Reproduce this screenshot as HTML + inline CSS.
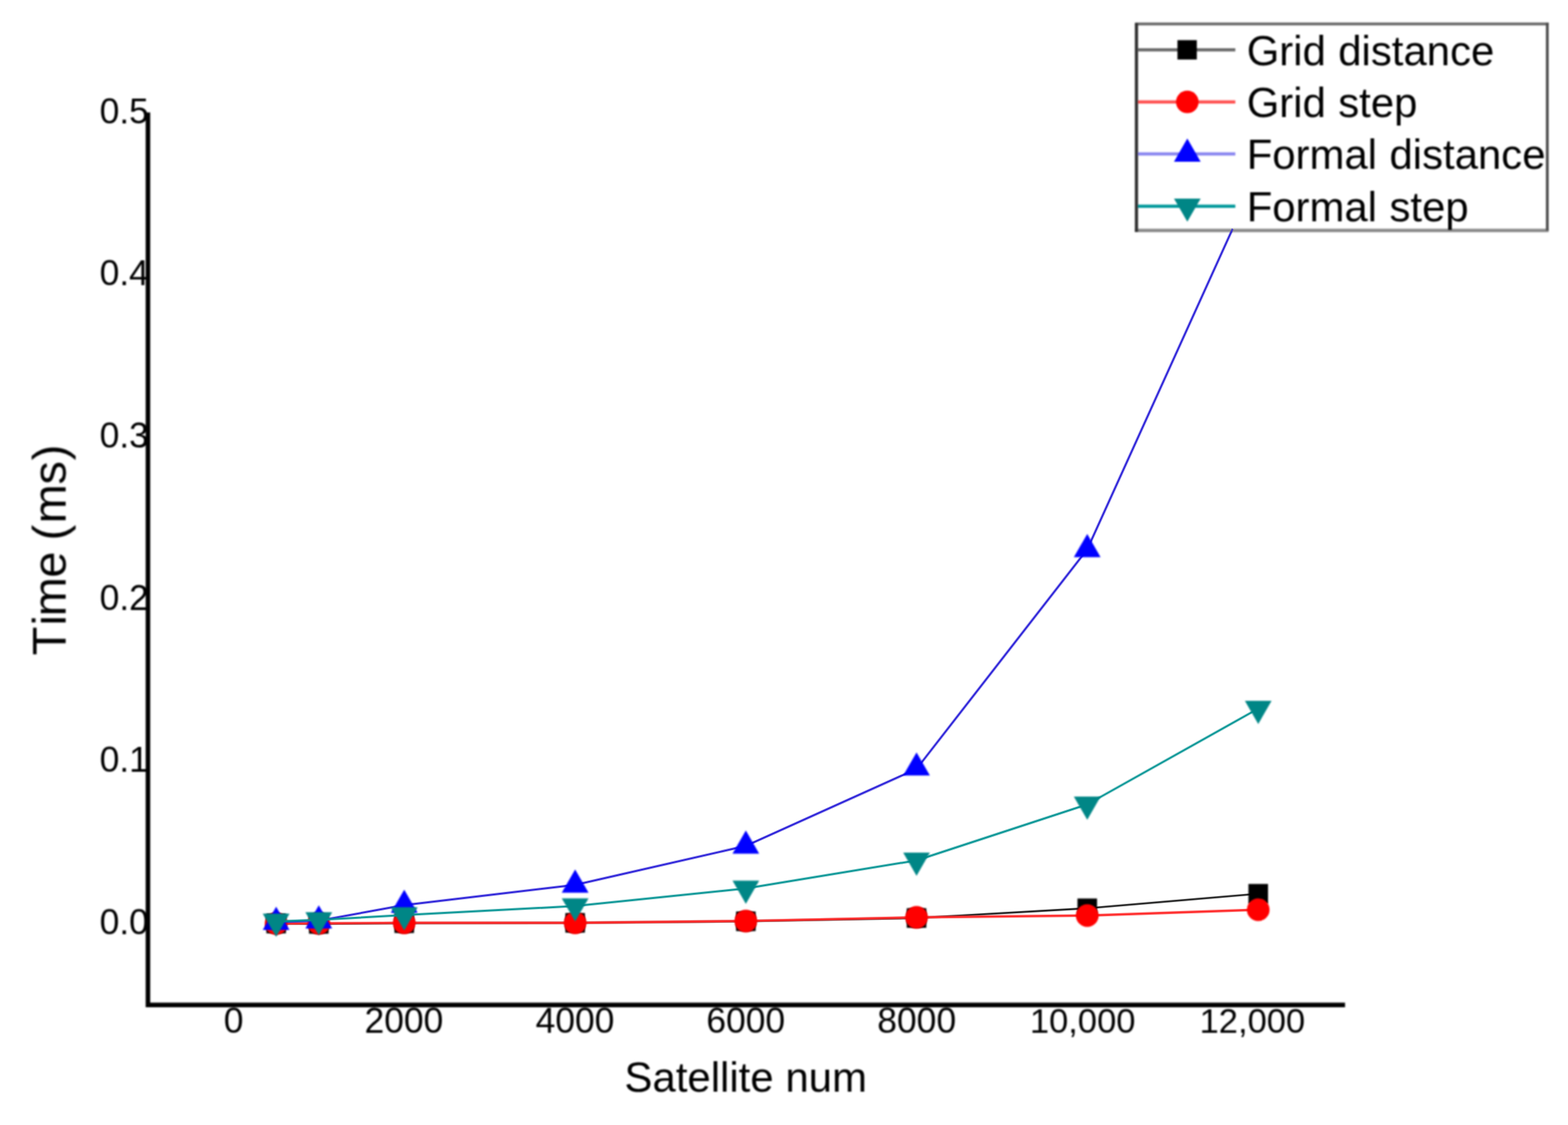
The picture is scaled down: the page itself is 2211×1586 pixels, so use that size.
<!DOCTYPE html>
<html lang="en"><head><meta charset="utf-8"><title>Time (ms) vs Satellite num</title>
<style>
html,body{margin:0;padding:0;background:#ffffff;}
body{width:2211px;height:1586px;}
svg{display:block;}
.bm{filter:blur(0.9px);}
text{font-family:"Liberation Sans",Arial,Helvetica,sans-serif;fill:#000;}
.tk{font-size:50px;}
.lg{font-size:59.1px;word-spacing:1px;}
.xt{font-size:59.15px;}
.yt{font-size:66.3px;}
</style></head><body>
<svg width="2211" height="1586" viewBox="0 0 2211 1586">
<rect x="0" y="0" width="2211" height="1586" fill="#ffffff"/>
<g fill="none" stroke="#101010" stroke-linejoin="round"><path d="M389.4,1302.0 L449.5,1302.5 L570.0,1301.5 L811.0,1301.0 L1051.7,1298.8 L1292.4,1294.2 L1533.1,1280.5 L1774.2,1260.0" stroke-width="3.6" stroke-opacity="0.45"/><path d="M389.4,1302.0 L449.5,1302.5 L570.0,1301.5 L811.0,1301.0 L1051.7,1298.8 L1292.4,1294.2 L1533.1,1280.5 L1774.2,1260.0" stroke-width="1.6"/></g>
<g class="bm"><rect x="375.6" y="1288.2" width="27.6" height="27.6" fill="#000"/><rect x="435.7" y="1288.7" width="27.6" height="27.6" fill="#000"/><rect x="556.2" y="1287.7" width="27.6" height="27.6" fill="#000"/><rect x="797.2" y="1287.2" width="27.6" height="27.6" fill="#000"/><rect x="1037.9" y="1285.0" width="27.6" height="27.6" fill="#000"/><rect x="1278.6" y="1280.4" width="27.6" height="27.6" fill="#000"/><rect x="1519.3" y="1266.7" width="27.6" height="27.6" fill="#000"/><rect x="1760.4" y="1246.2" width="27.6" height="27.6" fill="#000"/></g>
<g fill="none" stroke="#ff2a2a" stroke-linejoin="round"><path d="M389.4,1302.0 L449.5,1301.7 L570.0,1301.0 L811.0,1301.0 L1051.7,1298.4 L1292.4,1293.3 L1533.1,1290.7 L1774.2,1282.5" stroke-width="4.4" stroke-opacity="0.45"/><path d="M389.4,1302.0 L449.5,1301.7 L570.0,1301.0 L811.0,1301.0 L1051.7,1298.4 L1292.4,1293.3 L1533.1,1290.7 L1774.2,1282.5" stroke-width="2.4"/></g>
<g class="bm"><circle cx="389.4" cy="1302.0" r="16.0" fill="#ff0000"/><circle cx="449.5" cy="1301.7" r="16.0" fill="#ff0000"/><circle cx="570.0" cy="1301.0" r="16.0" fill="#ff0000"/><circle cx="811.0" cy="1301.0" r="16.0" fill="#ff0000"/><circle cx="1051.7" cy="1298.4" r="16.0" fill="#ff0000"/><circle cx="1292.4" cy="1293.3" r="16.0" fill="#ff0000"/><circle cx="1533.1" cy="1290.7" r="16.0" fill="#ff0000"/><circle cx="1774.2" cy="1282.5" r="16.0" fill="#ff0000"/></g>
<g fill="none" stroke="#2a20d8" stroke-linejoin="round"><path d="M389.4,1300.0 L449.5,1298.0 L570.0,1276.0 L811.0,1247.5 L1051.7,1192.5 L1292.4,1084.0 L1533.1,774.5 L1774.2,243.0" stroke-width="4.0" stroke-opacity="0.45"/><path d="M389.4,1300.0 L449.5,1298.0 L570.0,1276.0 L811.0,1247.5 L1051.7,1192.5 L1292.4,1084.0 L1533.1,774.5 L1774.2,243.0" stroke-width="2.0"/></g>
<g class="bm"><polygon points="389.4,1278.3 408.2,1310.9 370.5,1310.9" fill="#0000ff"/><polygon points="449.5,1276.3 468.4,1308.9 430.6,1308.9" fill="#0000ff"/><polygon points="570.0,1254.3 588.9,1286.9 551.1,1286.9" fill="#0000ff"/><polygon points="811.0,1225.8 829.9,1258.4 792.1,1258.4" fill="#0000ff"/><polygon points="1051.7,1170.8 1070.5,1203.4 1032.9,1203.4" fill="#0000ff"/><polygon points="1292.4,1060.7 1311.2,1093.3 1273.6,1093.3" fill="#0000ff"/><polygon points="1533.1,752.8 1551.9,785.4 1514.2,785.4" fill="#0000ff"/><polygon points="1774.2,221.3 1793.0,253.9 1755.4,253.9" fill="#0000ff"/></g>
<g fill="none" stroke="#069494" stroke-linejoin="round"><path d="M389.4,1299.0 L449.5,1296.8 L570.0,1290.0 L811.0,1277.3 L1051.7,1252.5 L1292.4,1213.0 L1533.1,1134.0 L1774.2,999.0" stroke-width="4.0" stroke-opacity="0.45"/><path d="M389.4,1299.0 L449.5,1296.8 L570.0,1290.0 L811.0,1277.3 L1051.7,1252.5 L1292.4,1213.0 L1533.1,1134.0 L1774.2,999.0" stroke-width="2.0"/></g>
<g class="bm"><polygon points="389.4,1320.7 408.2,1288.1 370.5,1288.1" fill="#008686"/><polygon points="449.5,1318.5 468.4,1285.9 430.6,1285.9" fill="#008686"/><polygon points="570.0,1311.7 588.9,1279.1 551.1,1279.1" fill="#008686"/><polygon points="811.0,1299.0 829.9,1266.4 792.1,1266.4" fill="#008686"/><polygon points="1051.7,1274.2 1070.5,1241.6 1032.9,1241.6" fill="#008686"/><polygon points="1292.4,1234.7 1311.2,1202.1 1273.6,1202.1" fill="#008686"/><polygon points="1533.1,1155.7 1551.9,1123.1 1514.2,1123.1" fill="#008686"/><polygon points="1774.2,1020.7 1793.0,988.1 1755.4,988.1" fill="#008686"/></g>
<g class="bm">
<path d="M208.6,158.4 L208.6,1416.8 L1896.6,1416.8" fill="none" stroke="#000" stroke-width="6.4" stroke-linejoin="miter"/>
<text class="tk" x="209.9" y="173.7" text-anchor="end">0.5</text>
<text class="tk" x="209.9" y="402.3" text-anchor="end">0.4</text>
<text class="tk" x="209.9" y="630.9" text-anchor="end">0.3</text>
<text class="tk" x="209.9" y="859.6" text-anchor="end">0.2</text>
<text class="tk" x="209.9" y="1088.2" text-anchor="end">0.1</text>
<text class="tk" x="209.9" y="1316.8" text-anchor="end">0.0</text>
<text class="tk" x="329.4" y="1456" text-anchor="middle">0</text>
<text class="tk" x="569.5" y="1456" text-anchor="middle">2000</text>
<text class="tk" x="810.8" y="1456" text-anchor="middle">4000</text>
<text class="tk" x="1051.5" y="1456" text-anchor="middle">6000</text>
<text class="tk" x="1292.6" y="1456" text-anchor="middle">8000</text>
<text class="tk" x="1452.2" y="1456" style="font-size:48.7px">10,000</text>
<text class="tk" x="1691.5" y="1456" style="font-size:48.7px">12,000</text>
<text class="xt" x="1051.5" y="1539.2" text-anchor="middle">Satellite num</text>
<text class="yt" transform="translate(92.2,776.4) rotate(-90) scale(1,1.01)" x="-147.4 -105.4 -92.4 -37.9 -3 14.4 38.6 93.2 127.5">Time (ms)</text>
<rect x="1602.5" y="33.8" width="579.3" height="291" fill="#ffffff"/>
<g fill="none" stroke-linecap="butt">
<line x1="1600.6" y1="33.8" x2="2183.7" y2="33.8" stroke="#6a6a6a" stroke-width="3.9"/>
<line x1="1600.3" y1="324.9" x2="2183.7" y2="324.9" stroke="#8a8a8a" stroke-width="4.6"/>
<line x1="2181.8" y1="32" x2="2181.8" y2="325" stroke="#4c4c4c" stroke-width="3.9"/>
<line x1="1602.5" y1="32.4" x2="1602.5" y2="327" stroke="#303030" stroke-width="4.5"/>
</g>
<line x1="1604.6" y1="70.2" x2="1741.9" y2="70.2" stroke="#6a6a6a" stroke-width="4.6"/>
<line x1="1604.6" y1="143.7" x2="1741.9" y2="143.7" stroke="#ff5050" stroke-width="4.6"/>
<line x1="1604.6" y1="217.0" x2="1741.9" y2="217.0" stroke="#8a86f0" stroke-width="4.6"/>
<line x1="1604.6" y1="290.8" x2="1741.9" y2="290.8" stroke="#00989a" stroke-width="4.6"/>
<rect x="1660.3" y="56.6" width="27.3" height="27.3" fill="#000"/>
<circle cx="1674.2" cy="143.7" r="15.9" fill="#ff0000"/>
<polygon points="1674.2,195.3 1693.0,227.9 1655.4,227.9" fill="#0000ff"/>
<polygon points="1674.2,312.5 1693.0,279.9 1655.4,279.9" fill="#008686"/>
<text class="lg" x="1757.9" y="91.6">Grid distance</text>
<text class="lg" x="1757.9" y="165.0">Grid step</text>
<text class="lg" x="1757.9" y="238.3">Formal distance</text>
<text class="lg" x="1757.9" y="312.1">Formal step</text>
</g>
<path d="M1735.5,328.2 L1738.1,322.6" fill="none" stroke="#2a20d8" stroke-width="2.6" stroke-opacity="0.8"/>
</svg>
</body></html>
